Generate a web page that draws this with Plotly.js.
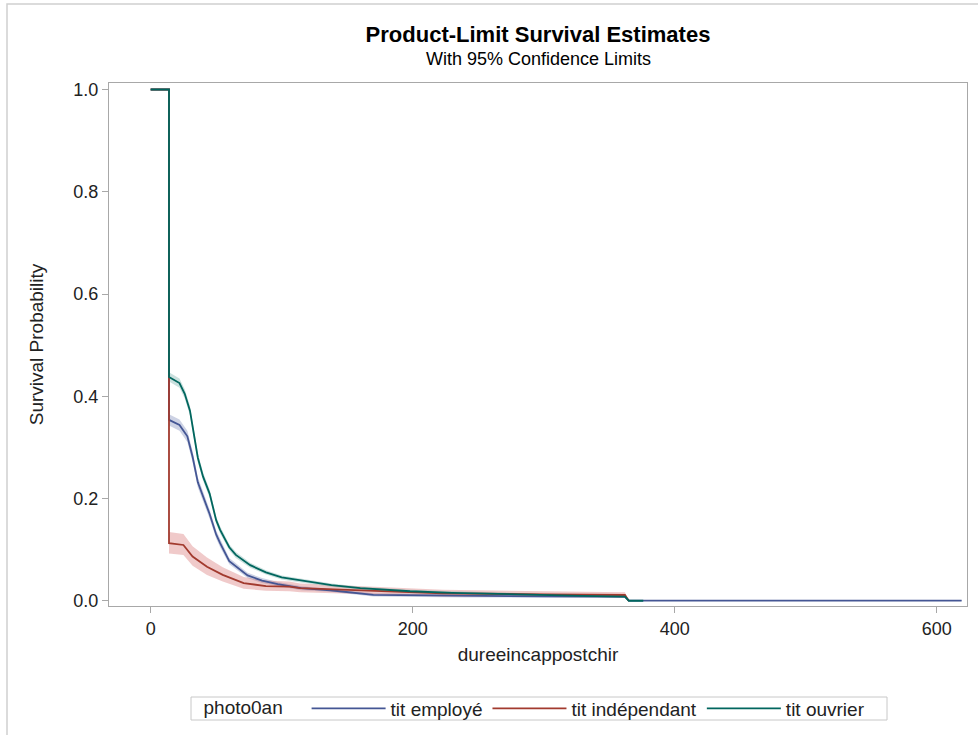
<!DOCTYPE html>
<html>
<head>
<meta charset="utf-8">
<script src="https://cdn.plot.ly/plotly-3.0.1.min.js"></script>
<style>html,body{margin:0;padding:0;background:#fff;}#chart{width:978px;height:735px;}</style>
</head>
<body>
<div id="chart"></div>
<script>
// ---- data ----
const groupNames = ["tit employé", "tit indépendant", "tit ouvrier"];
const legendTitle = "photo0an";
const xTicks = [0, 200, 400, 600];
const yTicks = [0, 0.2, 0.4, 0.6, 0.8, 1.0];

// tit employé
const tEmp  = [0, 14, 14, 22, 28, 32, 36, 40, 45, 50, 53, 60, 65, 74, 85, 97, 115, 137, 170, 241, 300, 362, 365, 619];
const sEmp  = [1, 1, 0.354, 0.344, 0.322, 0.282, 0.232, 0.205, 0.170, 0.130, 0.113, 0.078, 0.068, 0.050, 0.040, 0.033, 0.025, 0.021, 0.012, 0.0098, 0.009, 0.0085, 0.0008, 0.0008];
const loEmp = [1, 1, 0.343, 0.333, 0.311, 0.271, 0.222, 0.195, 0.161, 0.122, 0.105, 0.072, 0.062, 0.045, 0.035, 0.029, 0.021, 0.018, 0.009, 0.007, 0.0065, 0.006, 0, 0];
const upEmp = [1, 1, 0.365, 0.355, 0.333, 0.293, 0.242, 0.215, 0.179, 0.138, 0.121, 0.084, 0.074, 0.055, 0.045, 0.037, 0.029, 0.024, 0.015, 0.0125, 0.0115, 0.011, 0.002, 0.002];

// tit indépendant
const tInd  = [0, 14, 14, 25, 32, 43, 55, 71, 88, 106, 114, 152, 223, 300, 362, 365];
const sInd  = [1, 1, 0.113, 0.1095, 0.087, 0.067, 0.051, 0.035, 0.029, 0.028, 0.025, 0.0215, 0.015, 0.013, 0.0117, 0];
const loInd = [1, 1, 0.093, 0.090, 0.069, 0.051, 0.038, 0.024, 0.020, 0.019, 0.017, 0.014, 0.009, 0.008, 0.007, 0];
const upInd = [1, 1, 0.135, 0.131, 0.107, 0.085, 0.066, 0.047, 0.040, 0.038, 0.034, 0.030, 0.022, 0.019, 0.017, 0];

// tit ouvrier
const tOuv  = [0, 14, 14, 22, 26, 30, 33, 36, 40, 45, 50, 53, 60, 65, 76, 88, 100, 112, 138, 160, 198, 230, 266, 300, 330, 362, 365, 376];
const sOuv  = [1, 1, 0.438, 0.426, 0.405, 0.372, 0.326, 0.280, 0.243, 0.210, 0.158, 0.139, 0.105, 0.090, 0.070, 0.056, 0.046, 0.041, 0.031, 0.025, 0.019, 0.016, 0.0135, 0.012, 0.010, 0.0085, 0.0005, 0.0005];
const loOuv = [1, 1, 0.429, 0.417, 0.396, 0.363, 0.317, 0.271, 0.235, 0.202, 0.151, 0.132, 0.099, 0.084, 0.065, 0.052, 0.042, 0.037, 0.028, 0.022, 0.016, 0.013, 0.011, 0.0095, 0.008, 0.0065, 0, 0];
const upOuv = [1, 1, 0.447, 0.435, 0.414, 0.381, 0.335, 0.289, 0.251, 0.218, 0.165, 0.146, 0.111, 0.096, 0.075, 0.060, 0.050, 0.045, 0.034, 0.028, 0.022, 0.019, 0.016, 0.0145, 0.012, 0.0105, 0.001, 0.001];

// ---- styling ----
const lineColors = ["#445694", "#A23A2E", "#01665E"];
const bandColors = ["rgba(111,126,179,0.35)", "rgba(208,91,91,0.32)", "rgba(102,165,160,0.35)"];
const FONT = "Liberation Sans, Arial, Helvetica, sans-serif";

const groups = [
  {t: tEmp, s: sEmp, lo: loEmp, up: upEmp},
  {t: tInd, s: sInd, lo: loInd, up: upInd},
  {t: tOuv, s: sOuv, lo: loOuv, up: upOuv}
];

const traces = [];
groups.forEach((g, i) => {
  traces.push({x: g.t, y: g.lo, type: "scatter", mode: "lines", line: {width: 0, color: bandColors[i]}, showlegend: false, hoverinfo: "skip"});
  traces.push({x: g.t, y: g.up, type: "scatter", mode: "lines", line: {width: 0, color: bandColors[i]}, fill: "tonexty", fillcolor: bandColors[i], showlegend: false, hoverinfo: "skip"});
});
groups.forEach((g, i) => {
  traces.push({x: g.t, y: g.s, type: "scatter", mode: "lines", name: groupNames[i], line: {width: 1.8, color: lineColors[i]}});
});

const axisCommon = {
  showgrid: false, zeroline: false, showline: true, mirror: true,
  linecolor: "#A8A8A8", linewidth: 1,
  ticks: "outside", ticklen: 6, tickcolor: "#A8A8A8", tickwidth: 1,
  tickfont: {family: FONT, size: 18, color: "#222"},
  automargin: false
};

// plot area in pixels: x 109..967, y 83..606
const px = v => (v - 109) / 858;
const py = v => (606 - v) / 523;

const layout = {
  width: 978, height: 735,
  paper_bgcolor: "#fff", plot_bgcolor: "#fff",
  margin: {l: 109, r: 11, t: 83, b: 129},
  font: {family: FONT, color: "#000"},
  title: {text: "<b>Product-Limit Survival Estimates</b>", font: {family: FONT, size: 22, color: "#000"},
          xref: "paper", x: 0.5, xanchor: "center", yref: "container", y: 1 - 34/735, yanchor: "middle"},
  xaxis: Object.assign({}, axisCommon, {
    range: [-31.8, 623.1], tickvals: xTicks, ticktext: xTicks.map(String),
    title: {text: "dureeincappostchir", font: {family: FONT, size: 19, color: "#222"}, standoff: 10}
  }),
  yaxis: Object.assign({}, axisCommon, {
    range: [-0.0098, 1.0127], tickvals: yTicks, ticktext: yTicks.map(v => v.toFixed(1)),
    title: {text: "Survival Probability", font: {family: FONT, size: 19, color: "#222"}, standoff: 24}
  }),
  showlegend: true,
  legend: {
    orientation: "h", traceorder: "normal",
    xref: "container", x: 536 / 978, xanchor: "center",
    yref: "container", y: (735 - 708.5) / 735, yanchor: "middle",
    borderwidth: 0, bgcolor: "rgba(0,0,0,0)",
    font: {family: FONT, size: 19, color: "#222"},
    title: {text: legendTitle + "\u00a0\u00a0\u00a0", side: "left", font: {family: FONT, size: 19, color: "#222"}},
    itemwidth: 74, tracegroupgap: 0
  },
  annotations: [{
    text: "With 95% Confidence Limits", xref: "paper", yref: "paper", x: 0.5, y: py(59),
    xanchor: "center", yanchor: "middle", showarrow: false, font: {family: FONT, size: 18, color: "#000"}
  }],
  shapes: [
    {type: "rect", xref: "paper", yref: "paper", x0: px(7), x1: px(990), y0: py(745), y1: py(4),
     line: {color: "#D0D0D0", width: 1.5}, fillcolor: "rgba(0,0,0,0)", layer: "below"},
    {type: "rect", xref: "paper", yref: "paper", x0: px(191), x1: px(887), y0: py(720), y1: py(697),
     line: {color: "#C8C8C8", width: 1}, fillcolor: "rgba(0,0,0,0)", layer: "below"}
  ]
};

Plotly.newPlot("chart", traces, layout, {staticPlot: true, displayModeBar: false});
</script>
</body>
</html>
